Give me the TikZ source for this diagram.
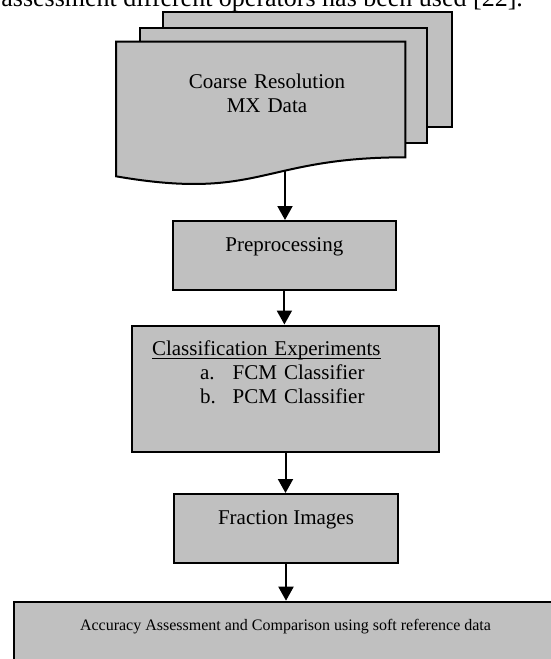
\documentclass[tikz,border=0pt]{standalone}
\usepackage{fontspec}
\setmainfont{Liberation Serif}
\usetikzlibrary{arrows.meta}
\definecolor{shade}{RGB}{192,192,192}

\begin{document}
\begin{tikzpicture}[x=0.5pt, y=-0.5pt,
  page/.style={line width=1pt, fill=shade},
  box/.style={draw, line width=1pt, fill=shade, anchor=base, inner ysep=0pt, font=\fontsize{10.5}{12}\selectfont},
  flow/.style={line width=1pt, -{Triangle[width=7.5pt, length=7pt]}}]

\useasboundingbox (0,0) rectangle (551,659);

\node[anchor=base west, inner sep=0pt, font=\fontsize{13}{15}\selectfont] (intro) at (1,6) {assessment different operators has been used [22].};

% stacked data pages
\filldraw[page] (162.7,12.3) rectangle (451.7,127.3);
\filldraw[page] (140,28) rectangle (427.3,142.7);
\filldraw[page] (116,41.7) -- (405.3,41.7) -- (405.3,157.3) .. controls (260.65,157.3) and (260.65,201.3) .. (116,176.3) -- cycle;
\node[text width=100pt, align=center, inner sep=0pt, anchor=base, font=\fontsize{10.5}{12}\selectfont] (mx) at (267,88) {Coarse Resolution\\MX Data};
\coordinate (mxbot) at (285,170.7);

% process boxes
\node[box, minimum width=111.65pt, text height=15pt, text depth=19.5pt] (pre) at (284.4,251) {Preprocessing};
\node[box, text width=133.5pt, inner xsep=10.15pt, align=left, text height=15.1pt, text depth=48pt] (cls) at (285.5,355.7) {\underline{\smash{Classification Experiments}}\\
\hspace*{24pt}\makebox[16.35pt][l]{a.}FCM Classifier\\
\hspace*{24pt}\makebox[16.35pt][l]{b.}PCM Classifier};
\node[box, minimum width=111.7pt, text height=15pt, text depth=19.65pt] (frac) at (286,524) {Fraction Images};
\node[box, minimum width=271.5pt, text height=14.15pt, text depth=30pt, font=\fontsize{8}{9.6}\selectfont] (acc) at (285.5,630) {Accuracy Assessment and Comparison using soft reference data};

\draw[flow] (mxbot) -- (mxbot |- pre.north);
\draw[flow] (pre.south) -- (pre.south |- cls.north);
\draw[flow] (cls.south) -- (cls.south |- frac.north);
\draw[flow] (frac.south) -- (frac.south |- acc.north);

\end{tikzpicture}
\end{document}
